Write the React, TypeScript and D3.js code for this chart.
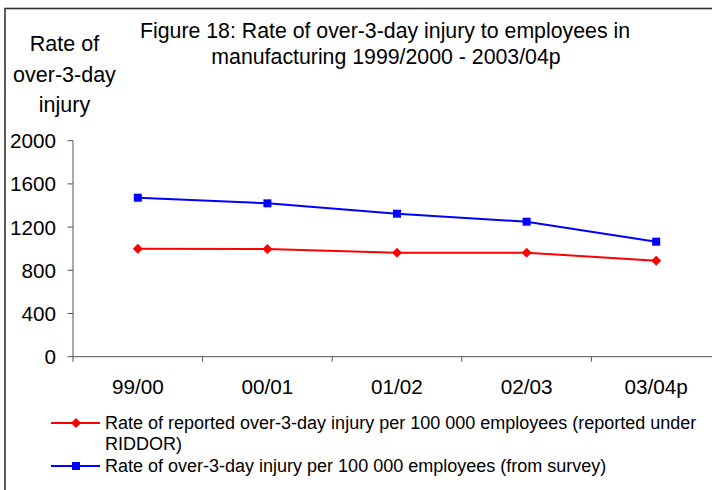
import React from "react";
import * as d3 from "d3";

const categories = ["99/00", "00/01", "01/02", "02/03", "03/04p"];
const riddorValues = [1000, 997, 963, 963, 889];
const surveyValues = [1472, 1420, 1324, 1250, 1065];
const yTicks = [0, 400, 800, 1200, 1600, 2000];
const titleLines = [
  "Figure 18: Rate of over-3-day injury to employees in",
  "manufacturing 1999/2000 - 2003/04p",
];
const yTitleLines = ["Rate of", "over-3-day", "injury"];
const legendLabels = [
  ["Rate of reported over-3-day injury per 100 000 employees (reported under", "RIDDOR)"],
  ["Rate of over-3-day injury per 100 000 employees (from survey)"],
];

const W = 712;
const H = 490;
const FONT = "'Liberation Sans', Arial, sans-serif";

export default function App() {
  const x = d3.scaleBand<string>().domain(categories).range([73, 721]);
  const y = d3.scaleLinear().domain([0, 2000]).range([356.7, 140.7]);
  const cx = (c: string) => (x(c) as number) + x.bandwidth() / 2;
  const line = d3
    .line<number>()
    .x((_, i) => cx(categories[i]))
    .y((d) => y(d));

  const axisColor = "#555";
  const diamond = (px: number, py: number, r: number) =>
    `M${px},${py - r}L${px + r},${py}L${px},${py + r}L${px - r},${py}Z`;

  return (
    <svg
      width={W}
      height={H}
      style={{ position: "absolute", left: 0, top: 0, background: "#fff" }}
      fontFamily={FONT}
    >
      <rect x={0} y={0} width={W} height={H} fill="#fff" />
      {/* outer border */}
      <rect x={5} y={8.5} width={W + 20} height={H + 20} fill="none" stroke="#333" strokeWidth={1.6} />

      {/* title */}
      <text x={385} y={37.5} textAnchor="middle" fontSize={21.3} fill="#000">
        {titleLines[0]}
      </text>
      <text x={386} y={63.5} textAnchor="middle" fontSize={21.3} fill="#000">
        {titleLines[1]}
      </text>

      {/* y title */}
      {yTitleLines.map((t, i) => (
        <text key={t} x={64.5} y={51 + i * 30.5} textAnchor="middle" fontSize={21.5} fill="#000">
          {t}
        </text>
      ))}

      {/* y axis */}
      <line x1={73} x2={73} y1={y(2000)} y2={y(0)} stroke={axisColor} strokeWidth={1} />
      {yTicks.map((t) => (
        <g key={t}>
          <line x1={67.5} x2={73} y1={y(t)} y2={y(t)} stroke={axisColor} />
          <text x={56} y={y(t)} dy="0.36em" textAnchor="end" fontSize={20.7} fill="#000">
            {t}
          </text>
        </g>
      ))}

      {/* x axis */}
      <line x1={73} x2={W + 10} y1={y(0)} y2={y(0)} stroke={axisColor} />
      {categories.map((c) => (
        <g key={c}>
          <line
            x1={x(c) as number}
            x2={x(c) as number}
            y1={y(0)}
            y2={y(0) + 5}
            stroke={axisColor}
          />
          <text x={cx(c)} y={387} dy="0.36em" textAnchor="middle" fontSize={20.7} fill="#000">
            {c}
          </text>
        </g>
      ))}

      {/* series */}
      <path d={line(riddorValues) || ""} fill="none" stroke="#ff0000" strokeWidth={2} />
      <path d={line(surveyValues) || ""} fill="none" stroke="#0000ff" strokeWidth={2} />
      {riddorValues.map((v, i) => (
        <path key={"r" + i} d={diamond(cx(categories[i]), y(v), 5)} fill="#ff0000" />
      ))}
      {surveyValues.map((v, i) => (
        <rect
          key={"s" + i}
          x={cx(categories[i]) - 4}
          y={y(v) - 4}
          width={8}
          height={8}
          fill="#0000ff"
        />
      ))}

      {/* legend */}
      <line x1={51} x2={100} y1={423} y2={423} stroke="#ff0000" strokeWidth={2} />
      <path d={diamond(76, 423, 5)} fill="#ff0000" />
      <text x={105} y={423} dy="0.36em" fontSize={18} fill="#000">
        {legendLabels[0][0]}
      </text>
      <text x={105} y={444} dy="0.36em" fontSize={18} fill="#000">
        {legendLabels[0][1]}
      </text>
      <line x1={51} x2={100} y1={466} y2={466} stroke="#0000ff" strokeWidth={2} />
      <rect x={72} y={462} width={8} height={8} fill="#0000ff" />
      <text x={105} y={466} dy="0.36em" fontSize={18} fill="#000">
        {legendLabels[1][0]}
      </text>
    </svg>
  );
}
